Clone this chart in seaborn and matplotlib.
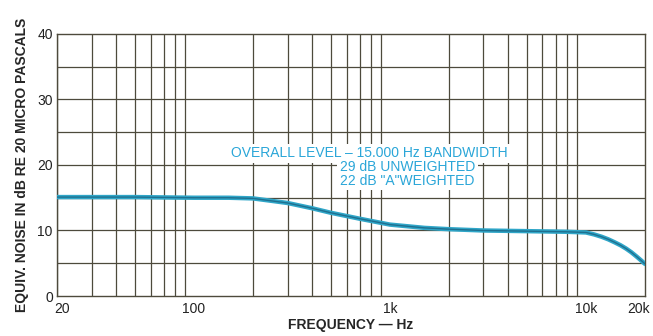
# -*- coding: utf-8 -*-

# 등가 잡음 주파수 특성 그래프
import pandas as pd
import seaborn as sns
import matplotlib.pyplot as plt
from matplotlib.ticker import FixedLocator, NullFormatter
from matplotlib.transforms import ScaledTranslation

freq_hz = [20, 50, 100, 150, 200, 300, 400, 500, 700, 1000, 1500, 2000,
           3000, 5000, 8000, 10000, 11000, 12000, 13000, 14000, 15000, 16000,
           17000, 18000, 19000, 20000]
noise_db = [15.1, 15.1, 15.0, 15.0, 14.9, 14.2, 13.4, 12.7, 11.8, 10.9, 10.4, 10.2,
            10.0, 9.9, 9.8, 9.7, 9.4, 9.05, 8.65, 8.2, 7.75, 7.25,
            6.7, 6.1, 5.5, 4.9]

x_ticks = [20, 100, 1000, 10000, 20000]
x_labels = ['20', '100', '1k', '10k', '20k']
y_ticks = [0, 10, 20, 30, 40]
note = ['OVERALL LEVEL \u2013 15,000 Hz BANDWIDTH',
        '29 dB UNWEIGHTED',
        '22 dB "A"WEIGHTED']

df = pd.DataFrame({'freq': freq_hz, 'noise': noise_db})

sns.set_style('white')
plt.rcParams['font.family'] = ['Liberation Sans', 'DejaVu Sans']

fig = plt.figure(figsize=(6.53, 3.36), dpi=100)
ax = fig.add_axes([0.0873, 0.119, 0.9004, 0.780])

grid_c = '#4d4a3c'
minor = [v * m for m in (10, 100, 1000) for v in range(2, 10)] + [30, 40, 50, 60, 70, 80, 90]
for f in sorted(set(minor)):
    if 20 <= f <= 10000:
        ax.axvline(f, color=grid_c, lw=0.9, zorder=1)
for y in range(5, 40, 5):
    ax.axhline(y, color=grid_c, lw=0.9, zorder=1)

sns.lineplot(data=df, x='freq', y='noise', ax=ax, color='#2fa6c8', lw=3.2, zorder=3)
sns.lineplot(data=df, x='freq', y='noise', ax=ax, color='#1f6f8f', lw=1.0, zorder=4)

ax.set_xscale('log')
ax.set_xlim(20, 20000)
ax.set_ylim(0, 40)
ax.xaxis.set_major_locator(FixedLocator(x_ticks))
ax.set_xticklabels(x_labels)
ax.xaxis.set_minor_formatter(NullFormatter())
ax.set_yticks(y_ticks)
ax.tick_params(axis='both', length=0, labelsize=10, colors='#222222')
ax.tick_params(axis='x', pad=4)
ax.tick_params(axis='y', pad=3)

# nudge end labels inward like the original
lbls = ax.get_xticklabels()
lbls[0].set_transform(lbls[0].get_transform() + ScaledTranslation(5 / 100, 0, fig.dpi_scale_trans))
lbls[-1].set_transform(lbls[-1].get_transform() + ScaledTranslation(-6 / 100, 0, fig.dpi_scale_trans))

for s in ax.spines.values():
    s.set_color(grid_c)
    s.set_linewidth(1.0)

ax.set_xlabel('FREQUENCY \u2014 Hz', fontsize=10, fontweight='bold', labelpad=2)
ax.set_ylabel('EQUIV. NOISE IN dB RE 20 MICRO PASCALS', fontsize=10,
              fontweight='bold', labelpad=6)

txt_c = '#2aa6d8'
ax.text(0.532, 0.544, note[0], transform=ax.transAxes, ha='center', va='center',
        color=txt_c, fontsize=10,
        bbox=dict(facecolor='white', edgecolor='none', pad=2), zorder=5)
ax.text(0.481, 0.466, note[1] + '\n' + note[2], transform=ax.transAxes,
        ha='left', va='center', color=txt_c, fontsize=10, linespacing=0.95,
        bbox=dict(facecolor='white', edgecolor='none', pad=2), zorder=5)

fig.savefig('out.png', dpi=100)
